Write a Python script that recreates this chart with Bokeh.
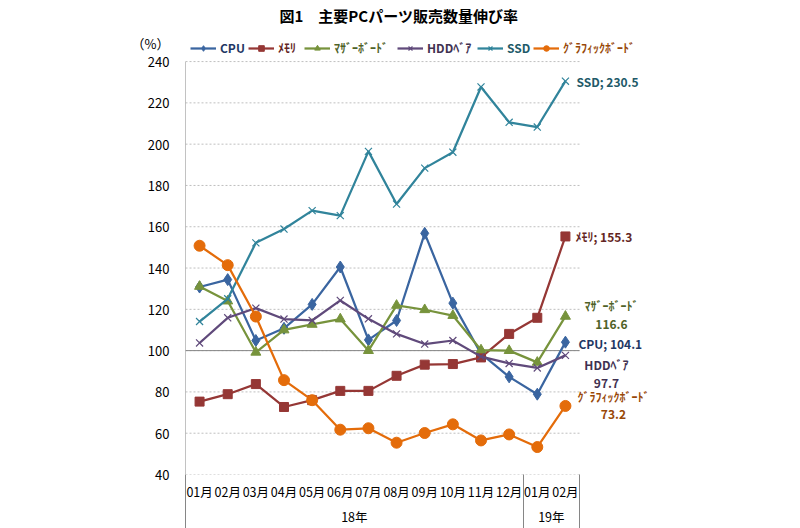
from bokeh.plotting import figure
from bokeh.models import Range1d, FixedTicker, LinearAxis, Legend, LegendItem
from bokeh.embed import file_html
from bokeh.resources import INLINE

TITLE = "図1\u3000主要PCパーツ販売数量伸び率"
UNIT = "（%）"
MONTHS = ["01月", "02月", "03月", "04月", "05月", "06月", "07月", "08月", "09月",
          "10月", "11月", "12月", "01月", "02月"]
YEARS = ["18年", "19年"]
YEAR_CENTERS = [6.5, 13.5]
YEAR_BOUNDS = [0.5, 12.5, 14.5]
X = list(range(1, 15))
Y_TICKS = [40, 60, 80, 100, 120, 140, 160, 180, 200, 220, 240]
BASELINE = 100

NAMES = ["CPU", "ﾒﾓﾘ", "ﾏｻﾞｰﾎﾞｰﾄﾞ", "HDDﾍﾞｱ", "SSD", "ｸﾞﾗﾌｨｯｸﾎﾞｰﾄﾞ"]
CPU = [130.8, 134.4, 104.9, 110.8, 122.4, 140.5, 105.2, 114.6, 156.8, 123.0, 98.5, 87.3, 78.9, 104.1]
MEMORY = [75.3, 78.9, 83.8, 72.7, 76.0, 80.5, 80.5, 87.8, 93.2, 93.5, 96.7, 108.1, 115.9, 155.3]
MOTHERBOARD = [131.1, 124.0, 99.2, 110.0, 112.7, 115.3, 100.0, 121.9, 119.8, 117.0, 100.3, 100.0, 94.3, 116.6]
HDD = [103.7, 115.9, 120.6, 115.3, 114.6, 124.3, 115.4, 108.1, 103.2, 104.9, 97.1, 93.8, 91.6, 97.7]
SSD = [114.1, 125.1, 152.2, 158.9, 167.8, 165.4, 196.5, 171.0, 188.4, 196.1, 227.7, 210.6, 208.3, 230.5]
GRAPHICS = [150.8, 141.4, 116.5, 85.7, 76.0, 61.7, 62.4, 55.4, 60.1, 64.3, 56.5, 59.4, 53.3, 73.2]

SERIES = [CPU, MEMORY, MOTHERBOARD, HDD, SSD, GRAPHICS]
COLORS = ["#3A65A0", "#953735", "#77933C", "#604A7B", "#31849B", "#E46C0A"]
TEXT_COLORS = ["#1F3864", "#632523", "#4F6228", "#3F3151", "#215968", "#984807"]
MARKERS = ["diamond", "square", "triangle", "x", "x", "circle"]
MSIZES = [12, 9, 10, 10, 10, 11]

FONT = "Noto Sans CJK JP"

# layout: frame x 185..800 px (14 categories in 394 px), y 40->474 px, 240->62 px
PX_PER_CAT = 394 / 14
X_END = 0.5 + 615 / PX_PER_CAT
PX_PER_UNIT = (474 - 62) / (Y_TICKS[-1] - Y_TICKS[0])
FRAME_TOP = 28
Y_END = Y_TICKS[-1] + (62 - FRAME_TOP) / PX_PER_UNIT
UNIT_Y = Y_TICKS[-1] + 18 / PX_PER_UNIT

p = figure(width=800, height=528, output_backend="svg", toolbar_location=None,
           x_range=Range1d(0.5, X_END), y_range=Range1d(Y_TICKS[0], Y_END),
           min_border_left=185, min_border_right=0, min_border_top=0, min_border_bottom=0,
           x_axis_location=None, title=TITLE)
p.outline_line_color = None
p.background_fill_color = "white"
p.xgrid.visible = False
p.ygrid.visible = False

p.title.align = "left"
p.title.offset = 94
p.title.text_font = FONT
p.title.text_font_size = "15px"
p.title.text_font_style = "bold"
p.title.text_color = "#000000"
p.title.standoff = 4

# dotted horizontal grid limited to the category span
p.segment(x0=[YEAR_BOUNDS[0]] * len(Y_TICKS), x1=[YEAR_BOUNDS[-1]] * len(Y_TICKS),
          y0=Y_TICKS, y1=Y_TICKS, line_color="#BFBFBF", line_dash="2 2", line_width=1)
p.segment(x0=[YEAR_BOUNDS[0]], x1=[YEAR_BOUNDS[-1]], y0=[BASELINE], y1=[BASELINE],
          line_color="#868686", line_width=1)
# value-axis line
p.segment(x0=[YEAR_BOUNDS[0]], x1=[YEAR_BOUNDS[0]], y0=[Y_TICKS[0]], y1=[Y_TICKS[-1]],
          line_color="#868686", line_width=1)

# y axis (unit label carried as an extra tick above 240)
ya = p.yaxis[0]
ya.ticker = FixedTicker(ticks=Y_TICKS + [UNIT_Y], minor_ticks=[])
ya.major_label_overrides = {UNIT_Y: UNIT}
ya.axis_line_color = None
ya.major_tick_line_color = None
ya.minor_tick_line_color = None
ya.major_label_standoff = 10
ya.major_label_text_font = FONT
ya.major_label_text_font_size = "13px"
ya.major_label_text_color = "#000000"

# month axis (its minor ticks draw the year separators)
xa = LinearAxis(ticker=FixedTicker(ticks=X, minor_ticks=YEAR_BOUNDS),
                major_label_overrides={x: m for x, m in zip(X, MONTHS)})
xa.axis_line_color = None
xa.major_tick_line_color = None
xa.major_tick_out = 0
xa.major_tick_in = 0
xa.minor_tick_line_color = "#868686"
xa.minor_tick_out = 54
xa.minor_tick_in = 0
xa.major_label_standoff = -47
xa.major_label_text_font = FONT
xa.major_label_text_font_size = "12.5px"
xa.major_label_text_color = "#000000"
p.add_layout(xa, "below")

# year axis
ga = LinearAxis(ticker=FixedTicker(ticks=YEAR_CENTERS, minor_ticks=[]),
                major_label_overrides={x: y for x, y in zip(YEAR_CENTERS, YEARS)})
ga.axis_line_color = None
ga.major_tick_line_color = None
ga.major_tick_out = 0
ga.major_tick_in = 0
ga.minor_tick_line_color = None
ga.major_label_standoff = 3
ga.major_label_text_font = FONT
ga.major_label_text_font_size = "12.5px"
ga.major_label_text_color = "#000000"
p.add_layout(ga, "below")

renderers = []
for ser, col, mk, ms in zip(SERIES, COLORS, MARKERS, MSIZES):
    lr = p.line(X, ser, line_color=col, line_width=2.25)
    if mk == "x":
        mr = p.scatter(X, ser, marker="x", size=ms, line_color=col, line_width=1.2)
    else:
        mr = p.scatter(X, ser, marker=mk, size=ms, fill_color=col, line_color=col)
    renderers.append([lr, mr])

# legends (one per series so each label keeps its own colour)
LEG_X = [5, 63, 119, 212, 292, 348]
for name, rs, tc, lx in zip(NAMES, renderers, TEXT_COLORS, LEG_X):
    leg = Legend(items=[LegendItem(label=name, renderers=rs)], location=(lx, 418),
                 orientation="horizontal", padding=0, margin=0, spacing=0,
                 glyph_width=26, glyph_height=14, label_standoff=4,
                 label_text_font=FONT, label_text_font_size="12px",
                 label_text_font_style="bold", label_text_color=tc,
                 background_fill_alpha=0, border_line_alpha=0)
    p.add_layout(leg)

# end-of-line data labels
LABEL_SPECS = [  # (text template, x_offset, y_offset, align)
    ("{n}; {v}", 13, 1, "left"),
    ("{n}; {v}", 10, 0, "left"),
    ("{n}\n{v}", 46, -2, "center"),
    ("{n}\n{v}", 41, 18, "center"),
    ("{n}; {v}", 11, 0, "left"),
    ("{n}\n{v}", 48, -1, "center"),
]
for name, ser, tc, (tpl, xo, yo, al) in zip(NAMES, SERIES, TEXT_COLORS, LABEL_SPECS):
    p.text(x=[X[-1]], y=[ser[-1]], text=[tpl.format(n=name, v=f"{ser[-1]:.1f}")],
           x_offset=xo, y_offset=yo, text_align=al, text_baseline="middle",
           text_font={"value": FONT}, text_font_size="12px", text_font_style="bold",
           text_color=tc, text_line_height=1.03)

open("out.html", "w").write(file_html(p, INLINE))
